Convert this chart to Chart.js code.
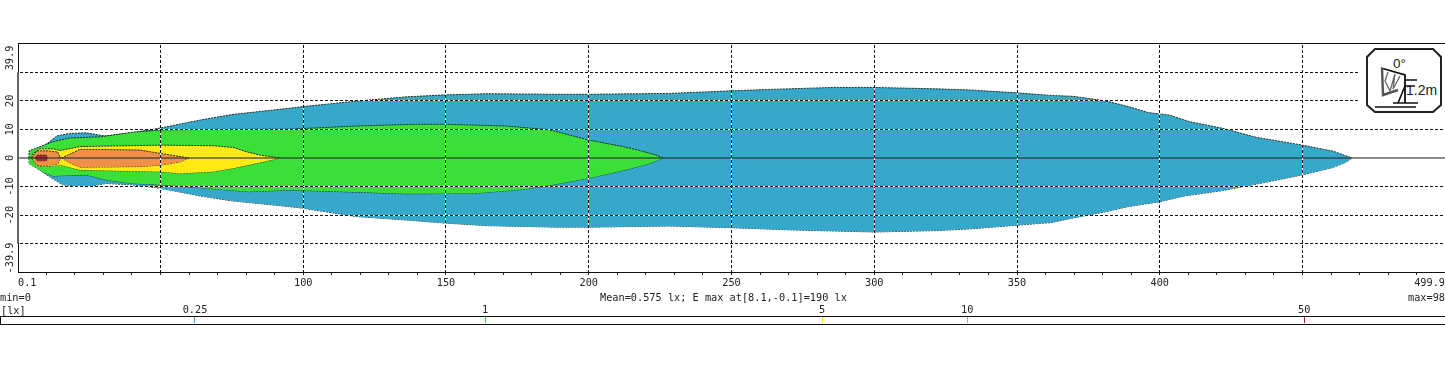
<!DOCTYPE html>
<html lang="en">
  <head>
    <meta charset="UTF-8" />
    <title>Illuminance contours</title>
    <script src="https://cdn.jsdelivr.net/npm/chart.js"></script>
    <style>
      html, body { margin: 0; padding: 0; background: #fff; overflow: hidden; }
      body { position: relative; width: 1445px; height: 368px; }
      canvas { position: absolute; left: 0; display: block; }
      #myCanvas { top: 0; }
      #barCanvas { top: 296px; }
      .cap { position: absolute; font: 10.25px "DejaVu Sans Mono", monospace; color: #222; white-space: pre; line-height: 12px; }
      #icon { position: absolute; left: 1360px; top: 44px; width: 85px; height: 71px; background: #fff; }
    </style>
  </head>
  <body>
    <canvas id="myCanvas" width="1445" height="368"></canvas>
    <canvas id="barCanvas" width="1445" height="40"></canvas>

    <div class="cap" style="left:0;top:291px">min=0</div>
    <div class="cap" style="left:600px;top:291px">Mean=0.575 lx; E max at[8.1,-0.1]=190 lx</div>
    <div class="cap" style="left:1408px;top:291px">max=98</div>
    <div class="cap" style="left:1px;top:304px">[lx]</div>

    <svg id="icon" viewBox="0 1 85 71">
      <polygon points="15,6 73,6 81,14 81,62 73,69 15,69 7,62 7,14" fill="none" stroke="#222" stroke-width="2" />
      <polyline points="21,25 45,32 45,60" fill="none" stroke="#111" stroke-width="1.8" />
      <polyline points="22,25 23,52 38,47" fill="none" stroke="#555" stroke-width="2.4" />
      <polyline points="28,29 25,38 30,48 35,31 33,46 40,33" fill="none" stroke="#666" stroke-width="1.3" />
      <path d="M45 37H57M45 43H55M38 60L45 43M33 60H58M15 64H56" fill="none" stroke="#111" stroke-width="1.6" />
      <text x="33" y="25" font-family="Liberation Sans" font-size="13.5" fill="#222">0°</text>
      <text x="46" y="52" font-family="Liberation Sans" font-size="14" fill="#222">1.2m</text>
    </svg>

    <script>
      // contours: distance along the road and half width on each side
      const blueUpX = [4, 7, 10.5, 13.7, 18, 24, 30.5, 40, 50, 64, 75, 95, 100, 118.6, 136, 150, 165, 188.6, 200, 217.8, 228, 250, 263, 285.6, 300, 322, 333.7, 350, 362, 369.6, 381, 389, 396, 403.5, 410.5, 422, 434, 450, 460.7, 467.3];
      const blueUpY = [0, 3.2, 5.2, 7.7, 8.6, 8.8, 7.7, 8.8, 10.5, 13.3, 15.2, 17.4, 18, 19.9, 21.4, 22.1, 22.5, 22.3, 22.3, 22.5, 22.6, 23.5, 24, 24.7, 24.7, 24.2, 23.8, 22.8, 21.9, 21.6, 20, 18, 15.9, 15, 12.7, 10.4, 7.2, 4.5, 2.4, 0];
      const blueLoX = [4, 7, 8.8, 11.2, 15.8, 24, 31, 40, 50, 64, 75, 95, 100, 118.6, 136, 150, 165, 188.6, 200, 228, 250, 272, 300, 322, 333.7, 350, 362, 369.6, 381, 389, 400, 408.5, 422, 434, 450, 460.7, 465, 467.3];
      const blueLoY = [0, -3.4, -4.9, -6.6, -9.4, -10.1, -8.9, -9.4, -10.6, -13.3, -15, -17, -17.6, -20.5, -21.7, -22.8, -23.7, -24.2, -24.2, -23.8, -24.4, -25.2, -25.9, -25.4, -24.8, -23.5, -22.6, -21, -18.8, -17, -15.3, -13.3, -11.4, -9.1, -5.9, -3.3, -1.6, 0];

      const greenUpX = [3.9, 4, 6.6, 12.3, 18.2, 28.7, 31, 40, 50, 64, 95.3, 118.6, 139.6, 150, 171, 186, 200, 212, 218, 224, 226];
      const greenUpY = [0, 2.5, 3.5, 5.7, 7, 7.4, 7.7, 9, 9.8, 10, 10.1, 11.2, 11.8, 11.8, 11.2, 9.9, 6.3, 4, 2.6, 0.9, 0];
      const greenLoX = [3.9, 4, 8.8, 12.3, 24, 31, 40, 50, 64, 81, 95, 123.6, 136, 159.5, 177, 185, 200, 212, 221.5, 226];
      const greenLoY = [0, -2, -4.9, -6.3, -5.9, -7.7, -8.9, -9.4, -10.4, -11.8, -11.2, -12.1, -12.5, -12.4, -11, -9.8, -7.1, -4.4, -1.9, 0];

      const yellowUpX = [4.9, 5.3, 7.7, 12.4, 14.8, 21.8, 50, 68.5, 75.5, 80, 85, 92];
      const yellowUpY = [0, 1.5, 3.2, 3.2, 2.6, 4, 4.5, 4.3, 3.7, 2.2, 1, 0];
      const yellowLoX = [4.9, 6.6, 8.9, 15.3, 21.8, 50, 57, 68.5, 75.5, 85, 92];
      const yellowLoY = [0, -2.5, -3, -2.5, -4.2, -4.8, -5.4, -4.8, -3.6, -1.6, 0];

      const orangeAUpX = [5, 6.6, 10.5, 14, 15];
      const orangeAUpY = [0, 2.5, 2.5, 2.1, 0];
      const orangeALoX = [5, 6.6, 10.5, 14, 15];
      const orangeALoY = [0, -2.5, -2.5, -2.1, 0];

      const orangeBUpX = [15.3, 19, 21.8, 28.7, 42.7, 50, 60];
      const orangeBUpY = [0, 1.7, 3, 3, 2.8, 1.6, 0];
      const orangeBLoX = [15.3, 19, 21.8, 42.7, 50, 57, 60];
      const orangeBLoY = [0, -2, -3.2, -3, -2.5, -1.3, 0];

      const redUpX = [6.2, 6.8, 10, 10.4];
      const redUpY = [0, 1, 1, 0];
      const redLoX = [6.2, 6.8, 10, 10.4];
      const redLoY = [0, -1, -1, 0];

      const blueColor = "#35a8cc";
      const greenColor = "#3ae038";
      const yellowColor = "#ffe915";
      const orangeColor = "#f0904a";
      const redColor = "#b5202a";

      // axes
      const xGridStep = 50;
      const xTicks = [0.1, 10, 20, 30, 40, 50, 60, 70, 80, 90, 100, 110, 120, 130, 140, 150, 160, 170, 180, 190, 200, 210, 220, 230, 240, 250, 260, 270, 280, 290, 300, 310, 320, 330, 340, 350, 360, 370, 380, 390, 400, 410, 420, 430, 440, 450, 460, 470, 480, 490, 499.9];
      const xLabels = [0.1, 100, 150, 200, 250, 300, 350, 400, 499.9];
      const yTicks = [-35, -30, -20, -10, 0, 10, 20, 30, 35];
      const yLabels = { "-35": "-39.9", "-20": "-20", "-10": "-10", "0": "0", "10": "10", "20": "20", "35": "39.9" };

      // colour scale
      const scaleValues = [0.25, 1, 5, 10, 50];
      const scaleColors = [blueColor, greenColor, yellowColor, orangeColor, redColor];

      function pares(xs, ys) {
        return xs.map(function (x, i) { return { x: x, y: ys[i] }; });
      }

      function contorno(upX, upY, loX, loY, cor) {
        const comum = { showLine: true, pointRadius: 0, tension: 0, borderColor: "#1c2b22", borderWidth: 1, borderDash: [2, 1] };
        return [
          Object.assign({ data: pares(upX, upY), fill: "+1", backgroundColor: cor }, comum),
          Object.assign({ data: pares(loX, loY), fill: false }, comum),
        ];
      }

      function tracejado(w, h, preto) {
        const c = document.createElement("canvas");
        c.width = w;
        c.height = h;
        const g = c.getContext("2d");
        g.fillStyle = "#fff";
        g.fillRect(0, 0, w, h);
        g.fillStyle = "#111";
        if (w > h) g.fillRect(0, 0, preto, h);
        else g.fillRect(0, 0, w, preto);
        return g.createPattern(c, "repeat");
      }

      const hDash = tracejado(5, 1, 3);
      const vDash = tracejado(1, 5, 3);
      const fonte = { family: "'DejaVu Sans Mono', monospace", size: 10.25 };

      // inner contours first: chart.js paints the first dataset last
      const datasets = [
        { data: pares([0.1, 499.9], [0, 0]), showLine: true, pointRadius: 0, borderColor: "rgba(40,50,50,0.75)", borderWidth: 1.5, fill: false },
      ].concat(
        contorno(redUpX, redUpY, redLoX, redLoY, redColor),
        contorno(orangeAUpX, orangeAUpY, orangeALoX, orangeALoY, orangeColor),
        contorno(orangeBUpX, orangeBUpY, orangeBLoX, orangeBLoY, orangeColor),
        contorno(yellowUpX, yellowUpY, yellowLoX, yellowLoY, yellowColor),
        contorno(greenUpX, greenUpY, greenLoX, greenLoY, greenColor),
        contorno(blueUpX, blueUpY, blueLoX, blueLoY, blueColor)
      );

      const moldura = {
        id: "moldura",
        afterDraw: function (chart) {
          const a = chart.chartArea;
          const g = chart.ctx;
          g.save();
          g.strokeStyle = "#111";
          g.lineWidth = 1;
          // top edge sits one pixel above the plot area, as in the original
          g.strokeRect(Math.round(a.left) + 0.5, Math.round(a.top) - 0.5, Math.round(a.width), Math.round(a.height) + 1);
          if (chart.canvas.id === "myCanvas") {
            g.strokeStyle = "#666";
            g.lineWidth = 2;
            g.beginPath();
            g.moveTo(a.left, chart.scales.y.getPixelForValue(30));
            g.lineTo(a.left, chart.scales.y.getPixelForValue(-30));
            g.stroke();
          }
          g.restore();
        },
      };

      new Chart(document.getElementById("myCanvas"), {
        type: "scatter",
        data: { datasets: datasets },
        plugins: [moldura],
        options: {
          responsive: false,
          animation: false,
          layout: { padding: { top: 44, bottom: 76, left: 0, right: 0 } },
          plugins: { legend: { display: false }, tooltip: { enabled: false } },
          scales: {
            x: {
              type: "linear",
              min: 0.1,
              max: 499.9,
              afterBuildTicks: function (axis) {
                axis.ticks = xTicks.map(function (v) { return { value: v }; });
              },
              afterFit: function (axis) {
                axis.height = 20;
                axis.paddingRight = 0;
              },
              border: { display: false },
              grid: {
                z: 1,
                tickLength: 3,
                color: function (ctx) {
                  return ctx.tick && ctx.tick.value % xGridStep === 0 ? vDash : "transparent";
                },
                tickColor: function (ctx) {
                  return ctx.tick && Number.isInteger(ctx.tick.value) ? "#222" : "transparent";
                },
              },
              ticks: {
                autoSkip: false,
                maxRotation: 0,
                minRotation: 0,
                align: "inner",
                padding: 2,
                color: "#222",
                font: fonte,
                callback: function (v) { return xLabels.includes(v) ? String(v) : ""; },
              },
            },
            y: {
              type: "linear",
              min: -39.9,
              max: 39.9,
              afterBuildTicks: function (axis) {
                axis.ticks = yTicks.map(function (v) { return { value: v }; });
              },
              afterFit: function (axis) { axis.width = 18; },
              border: { display: false },
              grid: {
                z: 1,
                drawTicks: false,
                color: function (ctx) {
                  const v = ctx.tick ? ctx.tick.value : 0;
                  return v === 0 || Math.abs(v) === 35 ? "transparent" : hDash;
                },
              },
              ticks: {
                autoSkip: false,
                minRotation: 90,
                maxRotation: 90,
                crossAlign: "center",
                padding: -7.5,
                color: "#222",
                font: fonte,
                callback: function (v) { return yLabels[v] || ""; },
              },
            },
          },
        },
      });

      new Chart(document.getElementById("barCanvas"), {
        type: "scatter",
        data: { datasets: [] },
        plugins: [moldura],
        options: {
          responsive: false,
          animation: false,
          layout: { padding: { top: 0, bottom: 13, left: 0, right: 0 } },
          plugins: { legend: { display: false }, tooltip: { enabled: false } },
          scales: {
            x: {
              type: "logarithmic",
              position: "top",
              min: 0.0985,
              max: 98,
              afterBuildTicks: function (axis) {
                axis.ticks = scaleValues.map(function (v) { return { value: v }; });
              },
              afterFit: function (axis) {
                axis.height = 20.5;
                axis.paddingRight = 0;
              },
              border: { display: false },
              grid: {
                drawTicks: false,
                color: function (ctx) { return scaleColors[ctx.index] || "transparent"; },
              },
              ticks: {
                autoSkip: false,
                maxRotation: 0,
                padding: 0,
                color: "#222",
                font: fonte,
                callback: function (v) { return String(v); },
              },
            },
            y: { display: false, min: 0, max: 1 },
          },
        },
      });
    </script>
  </body>
</html>
